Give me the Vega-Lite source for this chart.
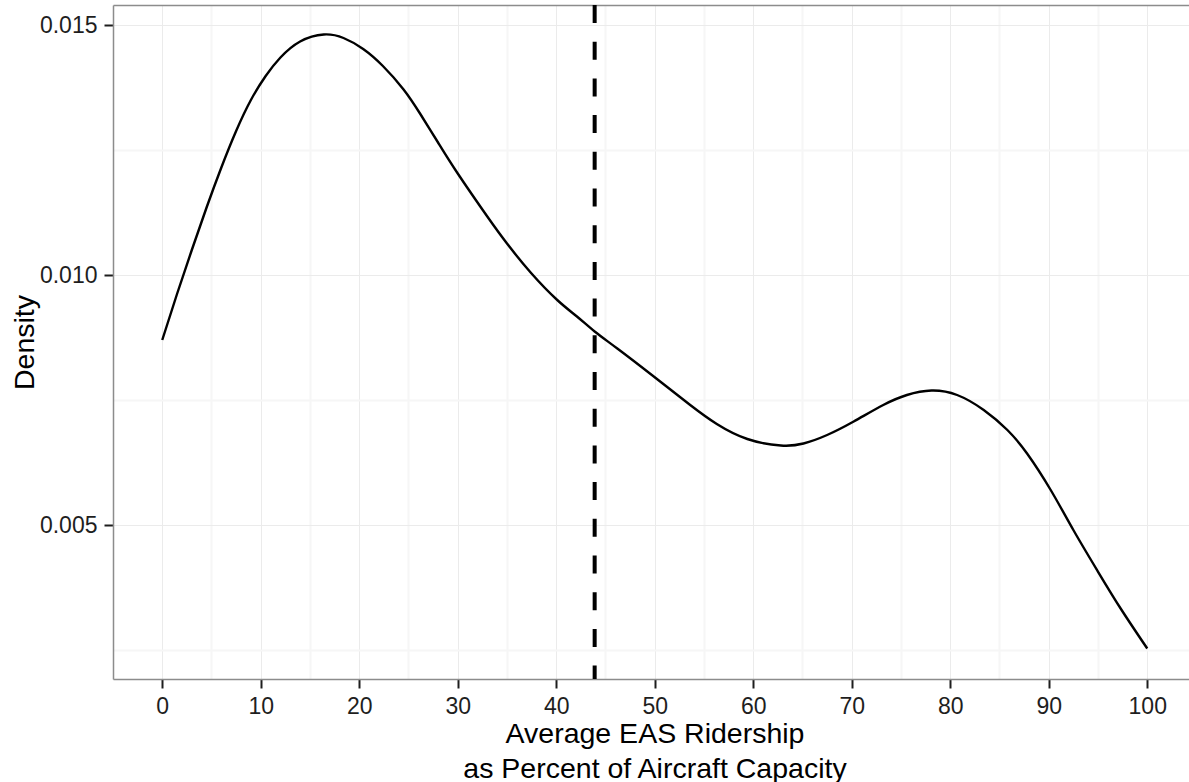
{
  "$schema": "https://vega.github.io/schema/vega-lite/v6.json",
  "autosize": "none",
  "width": 1076,
  "height": 674,
  "padding": {"left": 113, "top": 5, "right": 0, "bottom": 103},
  "background": "white",
  "view": {"stroke": null},
  "config": {
    "axis": {
      "labelFont": "Liberation Sans",
      "titleFont": "Liberation Sans",
      "labelFontSize": 23,
      "titleFontSize": 28.5,
      "titleFontWeight": "normal",
      "labelColor": "#1e1e1e",
      "titleColor": "#000000",
      "domainColor": "#8c8c8c",
      "domainWidth": 1.5,
      "tickColor": "#1e1e1e",
      "tickWidth": 2,
      "tickSize": 9,
      "labelPadding": 7,
      "labelOverlap": false,
      "labelFlush": false
    }
  },
  "resolve": {"axis": {"x": "independent"}},
  "layer": [
    {
      "data": {
        "values": [
          {"x": 0, "density": 0.0087},
          {"x": 1.5, "density": 0.00962},
          {"x": 3.0, "density": 0.0105},
          {"x": 4.5, "density": 0.01135},
          {"x": 6.0, "density": 0.01215},
          {"x": 7.5, "density": 0.01288},
          {"x": 9.0, "density": 0.0135},
          {"x": 10.5, "density": 0.01398},
          {"x": 12.0, "density": 0.01435},
          {"x": 14.0, "density": 0.01467},
          {"x": 16.4, "density": 0.01481},
          {"x": 18.4, "density": 0.01474},
          {"x": 20.4, "density": 0.01452},
          {"x": 22.4, "density": 0.01418},
          {"x": 24.5, "density": 0.01371},
          {"x": 26.2, "density": 0.01322},
          {"x": 28.0, "density": 0.01265},
          {"x": 30.0, "density": 0.01203},
          {"x": 33.0, "density": 0.01117},
          {"x": 35.0, "density": 0.01063},
          {"x": 37.4, "density": 0.01005},
          {"x": 40.1, "density": 0.0095},
          {"x": 42.1, "density": 0.00917},
          {"x": 43.9, "density": 0.00887},
          {"x": 46.2, "density": 0.00853},
          {"x": 49.9, "density": 0.00797},
          {"x": 53.6, "density": 0.0074},
          {"x": 56.3, "density": 0.00702},
          {"x": 59.4, "density": 0.00672},
          {"x": 62.8, "density": 0.00659},
          {"x": 65.1, "density": 0.00663},
          {"x": 67.5, "density": 0.0068},
          {"x": 70.2, "density": 0.00707},
          {"x": 73.2, "density": 0.0074},
          {"x": 75.6, "density": 0.0076},
          {"x": 78.1, "density": 0.00769},
          {"x": 80.7, "density": 0.0076},
          {"x": 83.4, "density": 0.0073},
          {"x": 85.8, "density": 0.0069},
          {"x": 87.8, "density": 0.00643},
          {"x": 90.2, "density": 0.0057},
          {"x": 92.5, "density": 0.0049},
          {"x": 94.9, "density": 0.0041},
          {"x": 97.3, "density": 0.00333},
          {"x": 100, "density": 0.00253}
        ]
      },
      "mark": {"type": "line", "color": "#000000", "strokeWidth": 2.4, "interpolate": "natural"},
      "encoding": {
        "x": {
          "field": "x",
          "type": "quantitative",
          "scale": {"domain": [-5, 104.24], "nice": false, "zero": false},
          "axis": {
            "orient": "bottom",
            "values": [0, 5, 10, 15, 20, 25, 30, 35, 40, 45, 50, 55, 60, 65, 70, 75, 80, 85, 90, 95, 100],
            "labelExpr": "datum.value % 10 === 0 ? datum.label : ''",
            "tickOpacity": {"condition": {"test": "datum.value % 10 === 0", "value": 1}, "value": 0},
            "grid": true,
            "gridColor": {"condition": {"test": "datum.value % 10 === 0", "value": "#ebebeb"}, "value": "#f6f6f6"},
            "gridWidth": {"condition": {"test": "datum.value % 10 === 0", "value": 1}, "value": 2},
            "title": ["Average EAS Ridership", "as Percent of Aircraft Capacity"],
            "titleX": 541.5,
            "titleY": 63,
            "titleAlign": "center",
            "titleBaseline": "alphabetic",
            "titleLineHeight": 35
          }
        },
        "y": {
          "field": "density",
          "type": "quantitative",
          "scale": {"domain": [0.00192, 0.0154], "nice": false, "zero": false},
          "axis": {
            "orient": "left",
            "values": [0.0025, 0.005, 0.0075, 0.01, 0.0125, 0.015],
            "format": ".3f",
            "labelExpr": "round(datum.value * 400) % 2 === 0 ? datum.label : ''",
            "tickOpacity": {"condition": {"test": "round(datum.value * 400) % 2 === 0", "value": 1}, "value": 0},
            "grid": true,
            "gridColor": {"condition": {"test": "round(datum.value * 400) % 2 === 0", "value": "#ebebeb"}, "value": "#f6f6f6"},
            "gridWidth": {"condition": {"test": "round(datum.value * 400) % 2 === 0", "value": 1}, "value": 2},
            "title": "Density",
            "titleX": -80,
            "titleY": 337,
            "titleAngle": -90,
            "titleAlign": "center",
            "titleBaseline": "alphabetic"
          }
        }
      }
    },
    {
      "data": {"values": [{"mean": 43.9}]},
      "mark": {"type": "rule", "color": "#000000", "strokeWidth": 4, "strokeDash": [18, 18.7]},
      "encoding": {
        "x": {
          "field": "mean",
          "type": "quantitative",
          "scale": {"domain": [-5, 104.24], "nice": false, "zero": false},
          "axis": {
            "orient": "top",
            "domain": true,
            "ticks": false,
            "labels": false,
            "grid": false,
            "title": null
          }
        }
      }
    }
  ]
}
